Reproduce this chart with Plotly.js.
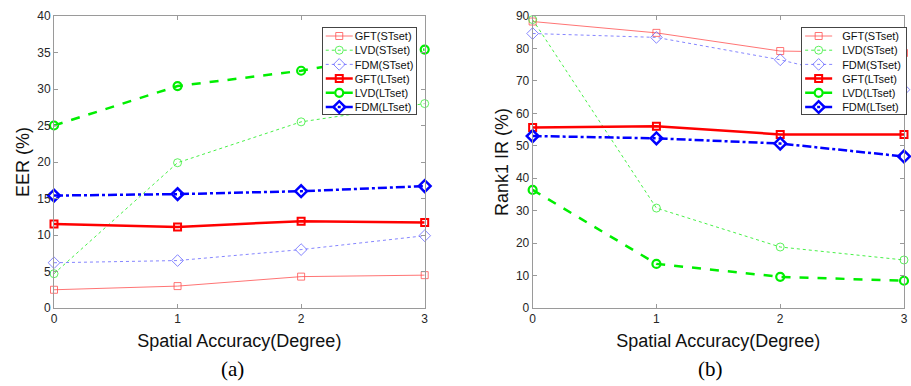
<!DOCTYPE html>
<html><head><meta charset="utf-8">
<script src="https://cdn.plot.ly/plotly-3.0.1.min.js"></script>
<style>html,body{margin:0;padding:0;background:#fff}#c{width:911px;height:386px}</style>
</head><body><div id="c"></div>
<script>
const xVals = [0, 1, 2, 3];
const seriesNames = ["GFT(STset)", "LVD(STset)", "FDM(STset)", "GFT(LTset)", "LVD(LTset)", "FDM(LTset)"];
// (a) EER (%)
const eerGFT_ST = [2.5, 3.0, 4.3, 4.5];
const eerLVD_ST = [4.7, 19.9, 25.5, 28.0];
const eerFDM_ST = [6.2, 6.5, 8.0, 9.9];
const eerGFT_LT = [11.5, 11.1, 11.9, 11.7];
const eerLVD_LT = [25.0, 30.4, 32.5, 35.4];
const eerFDM_LT = [15.4, 15.6, 16.0, 16.7];
// (b) Rank1 IR (%)
const irGFT_ST = [88.3, 84.8, 79.2, 78.6];
const irLVD_ST = [88.9, 30.8, 18.8, 14.8];
const irFDM_ST = [84.6, 83.4, 76.5, 67.3];
const irGFT_LT = [55.6, 56.0, 53.5, 53.5];
const irLVD_LT = [36.4, 13.6, 9.6, 8.4];
const irFDM_LT = [53.0, 52.3, 50.7, 46.7];
const eerTicks = [0, 5, 10, 15, 20, 25, 30, 35, 40];
const irTicks = [0, 10, 20, 30, 40, 50, 60, 70, 80, 90];
const xTicks = [0, 1, 2, 3];

const styles = [
  {color:'#ff5050', width:0.8, dash:'solid', symbol:'square-open', size:7, mlw:0.8},
  {color:'#33ee33', width:0.9, dash:'dot', symbol:'circle-open', size:8, mlw:0.8},
  {color:'#6666ff', width:0.8, dash:'dot', symbol:'diamond-open', size:9, mlw:0.8},
  {color:'#ff0000', width:2.5, dash:'solid', symbol:'square-open', size:7, mlw:2},
  {color:'#00ee00', width:2.5, dash:'dash', symbol:'circle-open', size:8, mlw:2.2},
  {color:'#0000ff', width:2.5, dash:'dashdot', symbol:'diamond-open', size:9, mlw:2.5}
];
const eerSets = [eerGFT_ST, eerLVD_ST, eerFDM_ST, eerGFT_LT, eerLVD_LT, eerFDM_LT];
const irSets = [irGFT_ST, irLVD_ST, irFDM_ST, irGFT_LT, irLVD_LT, irFDM_LT];

const traces = [];
function add(sets, xa, ya, leg) {
  sets.forEach((ys, i) => {
    const s = styles[i];
    traces.push({
      x: xVals, y: ys, xaxis: xa, yaxis: ya, legend: leg,
      type: 'scatter', mode: 'lines+markers', name: seriesNames[i],
      line: {color: s.color, width: s.width, dash: s.dash},
      marker: {symbol: s.symbol, size: s.size, color: s.color, line: {color: s.color, width: s.mlw}},
      cliponaxis: false
    });
  });
}
add(eerSets, 'x', 'y', 'legend');
add(irSets, 'x2', 'y2', 'legend2');

const tickFont = {family: 'Liberation Sans, Arial, sans-serif', size: 12, color: '#262626'};
const titleFont = {family: 'Liberation Sans, Arial, sans-serif', size: 18, color: '#111'};
const axBase = {showgrid: false, zeroline: false, showline: true, linecolor: '#9a9a9a', linewidth: 1,
  mirror: 'ticks', ticks: 'inside', ticklen: 4, tickcolor: '#9a9a9a', tickfont: tickFont};
const legBase = {bgcolor: '#ffffff', bordercolor: '#444', borderwidth: 1,
  font: {family: 'Liberation Sans, Arial, sans-serif', size: 11, color: '#111'},
  xanchor: 'left', yanchor: 'top', tracegroupgap: 0, itemwidth: 30};

const layout = {
  width: 911, height: 386, paper_bgcolor: '#fff', plot_bgcolor: '#fff',
  margin: {l: 54, r: 4, t: 16, b: 78},
  showlegend: true,
  xaxis: Object.assign({}, axBase, {domain: [0, 0.4361], range: [0, 3], tickvals: xTicks,
    title: {text: 'Spatial Accuracy(Degree)', font: titleFont, standoff: 8}}),
  yaxis: Object.assign({}, axBase, {domain: [0, 1], range: [0, 40], tickvals: eerTicks,
    title: {text: 'EER (%)', font: titleFont, standoff: 2}}),
  xaxis2: Object.assign({}, axBase, {domain: [0.5631, 1], range: [0, 3], tickvals: xTicks, anchor: 'y2',
    title: {text: 'Spatial Accuracy(Degree)', font: titleFont, standoff: 8}}),
  yaxis2: Object.assign({}, axBase, {domain: [0, 1], range: [0, 90], tickvals: irTicks, anchor: 'x2',
    title: {text: 'Rank1 IR (%)', font: titleFont, standoff: 2}}),
  legend: Object.assign({}, legBase, {x: 0.315, y: 0.9613}),
  legend2: Object.assign({}, legBase, {x: 0.879, y: 0.9613}),
  annotations: [
    {text: '(a)', xref: 'paper', yref: 'paper', x: 0.2098, y: -0.209, xanchor: 'center', yanchor: 'middle', showarrow: false,
     font: {family: 'Liberation Serif, Times New Roman, serif', size: 21, color: '#000'}},
    {text: '(b)', xref: 'paper', yref: 'paper', x: 0.7726, y: -0.209, xanchor: 'center', yanchor: 'middle', showarrow: false,
     font: {family: 'Liberation Serif, Times New Roman, serif', size: 21, color: '#000'}}
  ]
};

// Compact the library-drawn legends to MATLAB-like spacing
function tighten(leg) {
  const items = leg.querySelectorAll('g.traces');
  if (!items.length) return;
  const step = 14.2, top = 8.7, textX = 32;
  let maxW = 0;
  items.forEach((it, i) => {
    const tr = it.getAttribute('transform') || '';
    const m = /translate\(\s*([-\d.e]+)[ ,]+([-\d.e]+)\s*\)/.exec(tr);
    const tx = m ? parseFloat(m[1]) : 0;
    it.setAttribute('transform', 'translate(' + tx + ',' + (top + i * step) + ')');
    const t = it.querySelector('text.legendtext');
    if (t) { t.setAttribute('x', textX); try { maxW = Math.max(maxW, t.getComputedTextLength()); } catch (e) {} }
    it.querySelectorAll('path.js-line').forEach(p => p.setAttribute('d', 'M3,0h27'));
    it.querySelectorAll('path.scatterpts').forEach(p => p.setAttribute('transform', 'translate(16.5,0)'));
  });
  const bg = leg.querySelector('rect.bg');
  if (bg) {
    bg.setAttribute('height', top + (items.length - 1) * step + 7.3);
    if (maxW > 0) bg.setAttribute('width', textX + maxW + 4);
  }
}
function tightenAll() {
  const bgs = document.querySelectorAll('#c rect.bg');
  bgs.forEach(bg => { const leg = bg.parentNode; if (leg) tighten(leg); });
}
const gd = document.getElementById('c');
Plotly.newPlot(gd, traces, layout, {displayModeBar: false, staticPlot: true}).then(() => {
  tightenAll();
  gd.on && gd.on('plotly_afterplot', tightenAll);
  setTimeout(tightenAll, 0);
  setTimeout(tightenAll, 100);
});
</script></body></html>
